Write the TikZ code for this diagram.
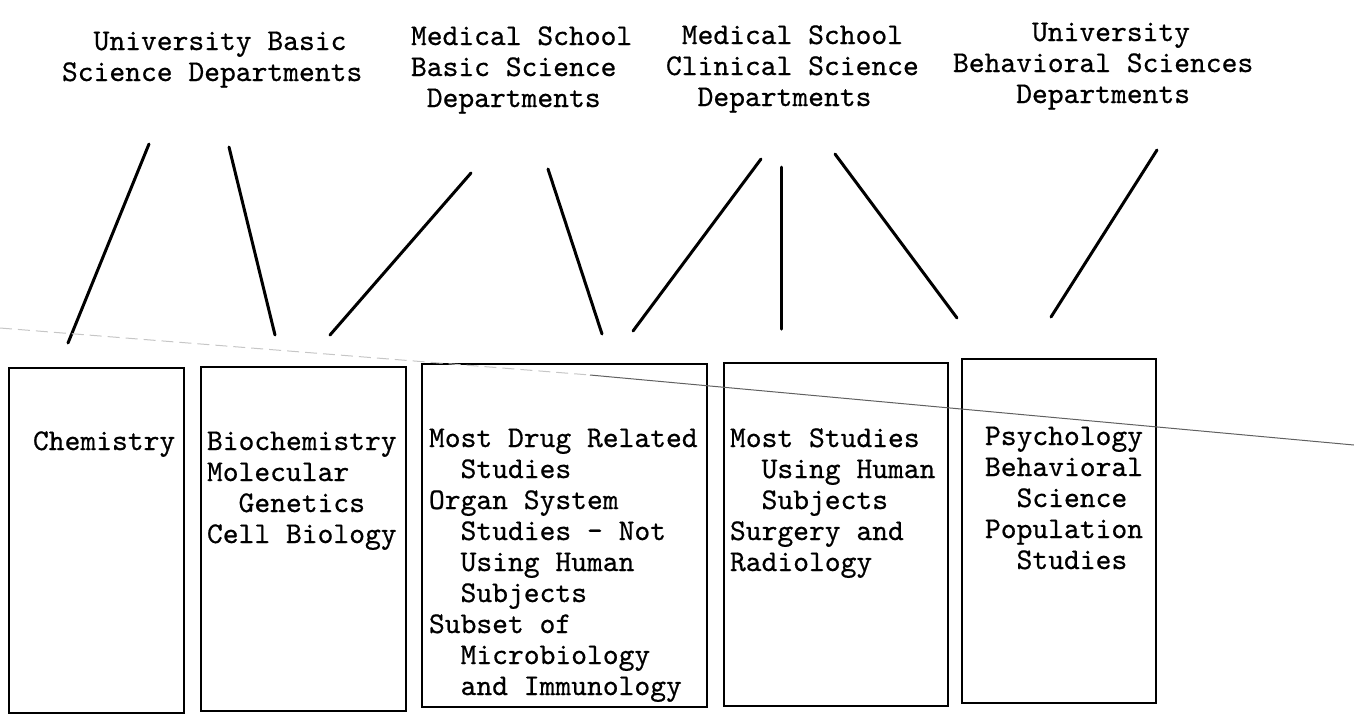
\documentclass[tikz,border=0pt]{standalone}
\usepackage{fontspec}
\newfontfamily\typewriter{lmmono10-regular.otf}[FakeBold=0.6]
\newcommand\chsp[1]{\hspace*{#1\dimexpr0.525em\relax}}
\begin{document}
\begin{tikzpicture}[x=0.5pt,y=-0.5pt,
  tw/.style={font=\typewriter\fontsize{15.05pt}{15.5pt}\selectfont,
             inner sep=0pt, outer sep=0pt, anchor=north west, align=left},
  catbox/.style={draw, line width=1.2pt, anchor=north west, inner sep=0pt},
  link/.style={line width=1.5pt, line cap=round},
  crease/.style={line width=0.5pt}]
\useasboundingbox (0,0) rectangle (1354,719);

% department headings
\node[tw] (hUB) at (62,30)  {\rule{0pt}{10pt}\chsp{2}University Basic\\Science Departments};
\node[tw] (hMB) at (411,25) {\rule{0pt}{10pt}Medical School\\Basic Science\\\chsp{1}Departments};
\node[tw] (hMC) at (666,24) {\rule{0pt}{10pt}\chsp{1}Medical School\\Clinical Science\\\chsp{2}Departments};
\node[tw] (hUV) at (953,21) {\rule{0pt}{10pt}\chsp{5}University\\Behavioral Sciences\\\chsp{4}Departments};

% research area boxes
\node[catbox, minimum width=87.5pt,  minimum height=172.5pt] (bChem) at (8,367)   {};
\node[catbox, minimum width=102.5pt, minimum height=172pt]   (bBio)  at (200,366) {};
\node[catbox, minimum width=142.5pt, minimum height=171.5pt] (bDrug) at (421,363) {};
\node[catbox, minimum width=112pt,   minimum height=171.5pt] (bHum)  at (723,362) {};
\node[catbox, minimum width=97pt,    minimum height=172pt]   (bPsy)  at (961,358) {};

% box contents
\node[tw] (tChem) at (33,430)  {\rule{0pt}{10pt}Chemistry};
\node[tw] (tBio)  at (207,430) {\rule{0pt}{10pt}Biochemistry\\Molecular\\\chsp{2}Genetics\\Cell Biology};
\node[tw] (tDrug) at (429,427) {\rule{0pt}{10pt}Most Drug Related\\\chsp{2}Studies\\Organ System\\\chsp{2}Studies - Not\\\chsp{2}Using Human\\\chsp{2}Subjects\\Subset of\\\chsp{2}Microbiology\\\chsp{2}and Immunology};
\node[tw] (tHum)  at (730,427) {\rule{0pt}{10pt}Most Studies\\\chsp{2}Using Human\\\chsp{2}Subjects\\Surgery and\\Radiology};
\node[tw] (tPsy)  at (985,425) {\rule{0pt}{10pt}Psychology\\Behavioral\\\chsp{2}Science\\Population\\\chsp{2}Studies};

% connector end points
\coordinate (a1) at (149,144);  \coordinate (b1) at (68,343);
\coordinate (a2) at (229,147);  \coordinate (b2) at (275,335);
\coordinate (a3) at (471,173);  \coordinate (b3) at (330,335);
\coordinate (a4) at (548,169);  \coordinate (b4) at (602,334);
\coordinate (a5) at (761,159);  \coordinate (b5) at (633,331);
\coordinate (a6) at (781,167);  \coordinate (b6) at (781,329);
\coordinate (a7) at (835,154);  \coordinate (b7) at (957,318);
\coordinate (a8) at (1157,150); \coordinate (b8) at (1051,317);

\foreach \i in {1,...,8} \draw[link] (a\i) -- (b\i);

% faint crease across the sheet
\coordinate (s0) at (0,328);
\coordinate (s1) at (590,375);
\coordinate (s2) at (1354,445);
\draw[crease, gray!45, dash pattern=on 6pt off 3pt] (s0) -- (s1);
\draw[crease, gray!75!black] (s1) -- (s2);
\end{tikzpicture}
\end{document}
